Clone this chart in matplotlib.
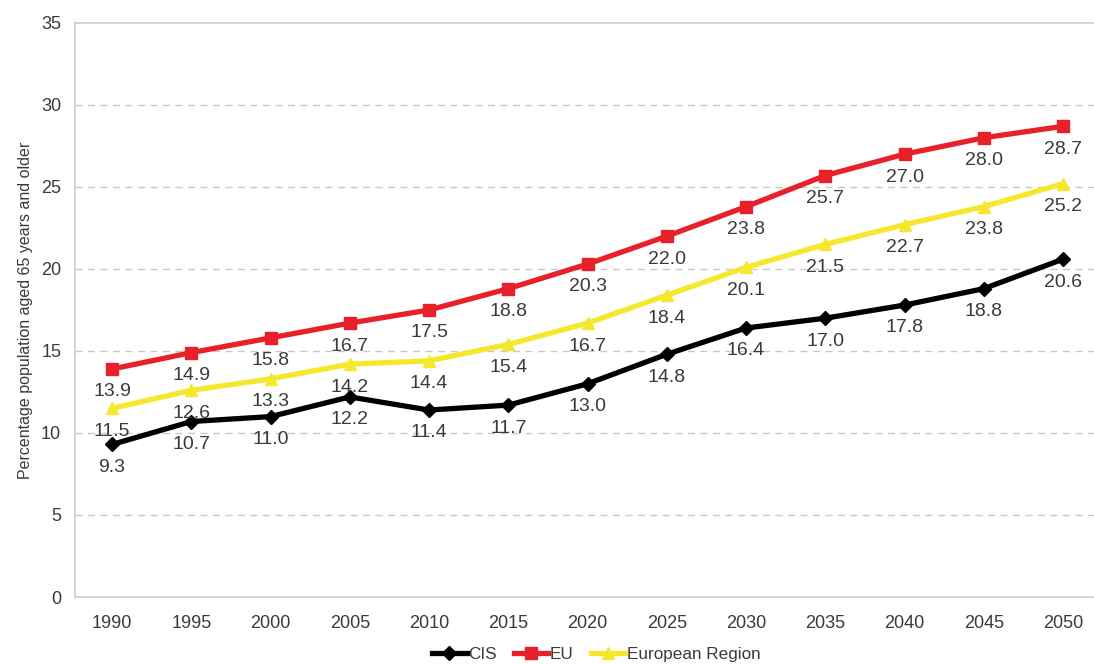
import numpy as np
import matplotlib.pyplot as plt

plt.rcParams['font.family'] = ['Liberation Sans', 'DejaVu Sans']

years = ['1990', '1995', '2000', '2005', '2010', '2015', '2020',
         '2025', '2030', '2035', '2040', '2045', '2050']
cis = [9.3, 10.7, 11.0, 12.2, 11.4, 11.7, 13.0, 14.8, 16.4, 17.0, 17.8, 18.8, 20.6]
eu = [13.9, 14.9, 15.8, 16.7, 17.5, 18.8, 20.3, 22.0, 23.8, 25.7, 27.0, 28.0, 28.7]
euro_region = [11.5, 12.6, 13.3, 14.2, 14.4, 15.4, 16.7, 18.4, 20.1, 21.5, 22.7, 23.8, 25.2]

fig = plt.figure(figsize=(10.94, 6.64), dpi=100)
# axes run a little past the right edge of the picture, like the cropped original
ax = fig.add_axes([0.0686, 0.1009, 0.9393, 0.8645])

x = np.arange(len(years))
series = [
    (cis, 'CIS', '#000000', 'D', 7),
    (eu, 'EU', '#e8202a', 's', 8),
    (euro_region, 'European Region', '#f5e82c', '^', 9),
]
for vals, name, col, mk, ms in series:
    ax.plot(x, vals, color=col, lw=3.8, marker=mk, markersize=ms, label=name,
            zorder=3)
    for xi, v in zip(x, vals):
        ax.annotate(f'{v:.1f}', (xi, v), xytext=(0, -16.5), textcoords='offset points',
                    ha='center', va='center', fontsize=14, color='#3a3a3a', zorder=4)

ax.set_xlim(-0.467, 12.5)
ax.set_ylim(0, 35)
ax.set_yticks(range(0, 36, 5))
ax.set_xticks(x)
ax.set_xticklabels(years)
ax.tick_params(length=0, labelsize=13, labelcolor='#3a3a3a')
ax.tick_params(axis='x', pad=13)
ax.tick_params(axis='y', pad=10)
for y in range(5, 35, 5):
    ax.axhline(y, color='#c8c8c8', lw=1, ls=(0, (5, 4)), zorder=1)
for s in ax.spines.values():
    s.set_color('#cccccc')
    s.set_linewidth(1.2)

ax.set_ylabel('Percentage population aged 65 years and older', fontsize=11.5,
              color='#3a3a3a', labelpad=6)

fig.legend(loc='center', bbox_to_anchor=(0.545, 0.014), ncol=3, frameon=False,
           fontsize=12.3, handlelength=2.0, handletextpad=0.1, columnspacing=1.0,
           labelcolor='#3a3a3a')

fig.savefig('out.png', dpi=100)
